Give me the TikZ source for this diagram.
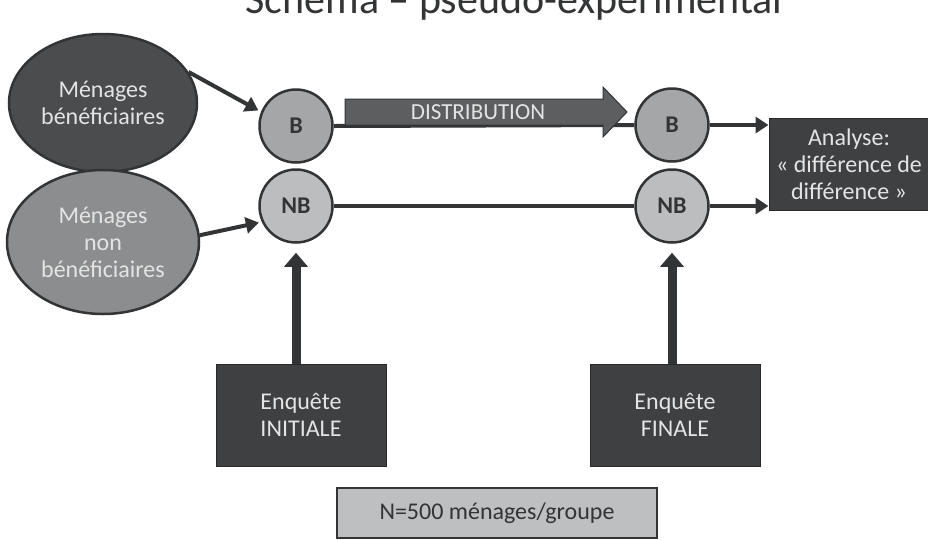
\documentclass[tikz,border=0pt]{standalone}
\usepackage{fontspec}
\setmainfont{Carlito}
\usetikzlibrary{shapes.geometric,arrows.meta}
\definecolor{ink}{RGB}{50,52,54}
\definecolor{darkfill}{RGB}{74,76,78}
\definecolor{midfill}{RGB}{140,141,142}
\definecolor{bfill}{RGB}{165,166,167}
\definecolor{nbfill}{RGB}{188,189,190}
\definecolor{boxfill}{RGB}{62,64,66}
\definecolor{distfill}{RGB}{92,94,96}
\definecolor{nfill}{RGB}{190,191,192}
\definecolor{paletext}{RGB}{228,228,228}
\tikzset{
  txt/.style={font=\fontsize{24}{27}\selectfont},
  ellbox/.style={ellipse, draw=ink, line width=2.5pt, inner sep=0pt, minimum width=188pt, minimum height=138pt, align=center, txt, text=paletext},
  circ/.style={circle, draw=ink, line width=2.5pt, inner sep=0pt, minimum size=73pt, font=\fontsize{24}{26}\selectfont\bfseries, text=ink},
  darkbox/.style={rectangle, draw=ink!80!black, line width=1pt, fill=boxfill, inner sep=0pt, align=center, txt, text=paletext},
  conn/.style={draw=ink, line width=4pt},
  arr/.style={conn, -{Triangle[width=16pt,length=13pt]}},
  uparr/.style={draw=ink, line width=9pt, -{Triangle[width=23pt,length=14pt]}}
}
\begin{document}
\begin{tikzpicture}[x=1pt,y=-1pt]
\useasboundingbox (0,0) rectangle (928,539);
\clip (0,0) rectangle (928,539);
\fill[white] (0,0) rectangle (928,539);

% title
\node[anchor=base, font=\fontsize{42}{46}\selectfont, text=ink] (title) at (514,13) {Schéma – pseudo-expérimental};

% ellipses
\node[ellbox, fill=darkfill] (ben) at (103,103) {Ménages\\bénéficiaires};
\node[ellbox, fill=midfill, minimum width=192pt, minimum height=144pt] (nben) at (103,242) {Ménages\\non\\bénéficiaires};

% circles
\node[circ, fill=bfill] (B1) at (296,126) {B};
\node[circ, fill=nbfill] (NB1) at (296,206) {NB};
\node[circ, fill=bfill] (B2) at (672,125) {B};
\node[circ, fill=nbfill] (NB2) at (672,206) {NB};

% analysis box
\node[darkbox, minimum width=160pt, minimum height=92pt] (ana) at (849,164) {Analyse:\\« différence de\\différence »};

% survey boxes
\node[darkbox, minimum width=170pt, minimum height=102pt] (ini) at (301,415) {Enquête\\INITIALE};
\node[darkbox, minimum width=170pt, minimum height=102pt] (fin) at (675,415) {Enquête\\FINALE};

% N box
\node[rectangle, draw=ink, line width=2pt, fill=nfill, minimum width=320pt, minimum height=50pt, txt, text=ink, inner sep=0pt] (nbox) at (497,513) {N=500 ménages/groupe};

% horizontal connectors
\draw[conn] (B1.east) -- (B2.west);
\draw[conn] (NB1.east) -- (NB2.west);
\draw[arr] (B2.east) -- (B2.east -| ana.west);
\draw[arr] (NB2.east) -- (NB2.east -| ana.west);

% distribution block arrow
\draw[fill=distfill, draw=ink, line width=1pt]
  (345,99) -- (603,99) -- (603,87) -- (627,112) -- (603,137) -- (603,125) -- (345,125) -- cycle;
\node[font=\fontsize{23}{25}\selectfont, text=paletext] (dist) at (478,112) {DISTRIBUTION};

% arrows from ellipses
\draw[arr, shorten >=3pt] (ben.20) -- (B1.158);
\draw[arr, shorten >=3pt] (nben.4) -- (NB1.205);

% vertical arrows
\draw[uparr, shorten >=9pt] (NB1 |- ini.north) -- (NB1.south);
\draw[uparr, shorten >=9pt] (NB2 |- fin.north) -- (NB2.south);
\end{tikzpicture}
\end{document}
